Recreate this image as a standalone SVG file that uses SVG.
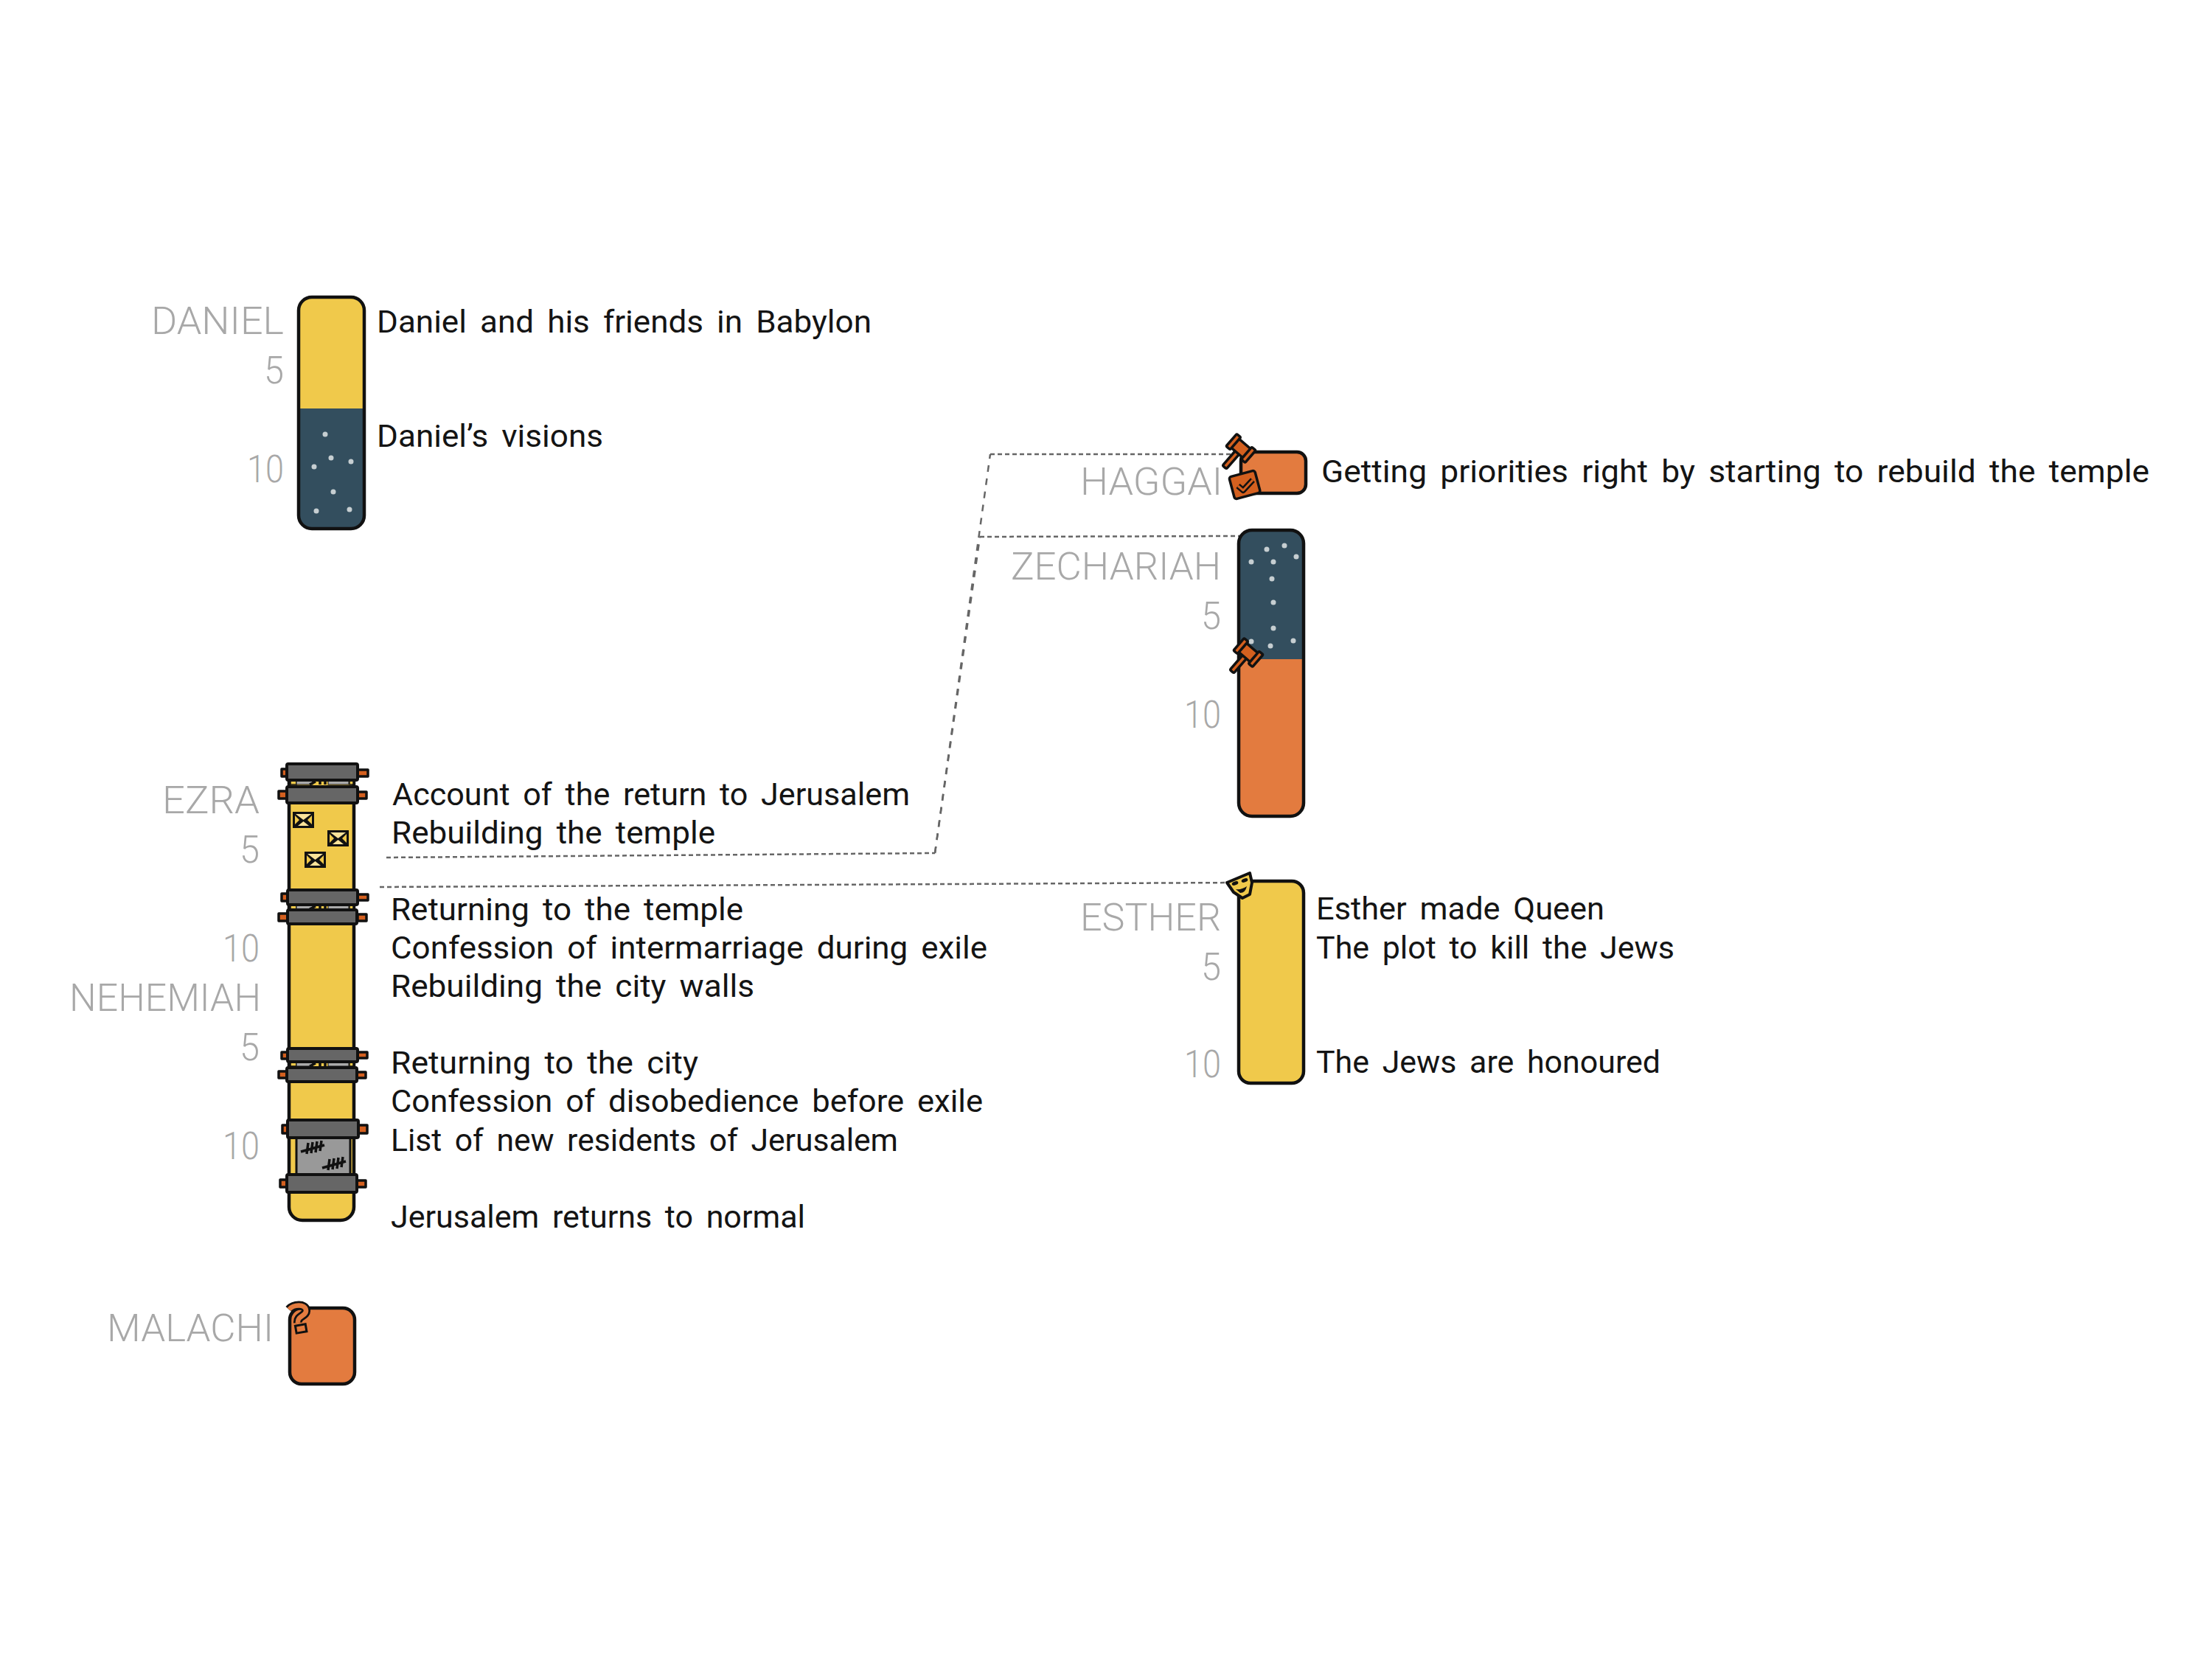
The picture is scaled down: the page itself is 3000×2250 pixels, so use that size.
<svg xmlns="http://www.w3.org/2000/svg" width="3000" height="2250" viewBox="0 0 3000 2250">
<style>
text{font-family:Roboto,"Noto Sans","Liberation Sans",sans-serif}
.t{font-size:43px;fill:#141414;word-spacing:7px}
.l{font-size:51px;fill:#a8a8a8;font-weight:300}
.o{stroke:#111;stroke-width:4.5;stroke-linejoin:round}
.y{fill:#f0c94b}.b{fill:#334e5e}.r{fill:#e37b3f}
.p{fill:#d4601f;stroke:#111;stroke-width:3.5;stroke-linejoin:round}
.d{fill:#c6ced1}
.dash{fill:none;stroke:#666;stroke-width:2.5;stroke-dasharray:6 4}
.dash2{fill:none;stroke:#666;stroke-width:2.5;stroke-dasharray:9 9}
.band{fill:#666;stroke:#111;stroke-width:4;stroke-linejoin:round}
.f{fill:none;stroke:#111;stroke-width:4.5}
</style>
<defs>
<g id="gavel">
<rect class="p" x="-3.500" y="6" width="7" height="28" rx="2"/>
<rect class="p" x="-11" y="-8" width="22" height="16"/>
<rect class="p" x="-17" y="-11" width="7" height="22" rx="1.500"/>
<rect class="p" x="10" y="-11" width="7" height="22" rx="1.500"/>
</g>
<g id="env">
<rect x="0" y="0" width="27" height="20" fill="#111" stroke="#111" stroke-width="2"/>
<path d="M3 2 H24 L13.500 10Z" fill="#fbe39a"/>
<path d="M2 4 L8 10 L2 16Z M25 4 L19 10 L25 16Z" fill="#f0c94b"/>
<path d="M6 18 L13.500 12 L21 18Z" fill="#fbe39a"/>
</g>
<g id="gap">
<rect x="394" y="0" width="8" height="5" fill="#f0c94b" stroke="#111" stroke-width="1.500"/>
<rect x="402" y="0" width="22" height="5" fill="#aaa" stroke="#111" stroke-width="1"/>
<rect x="445" y="0" width="28" height="5" fill="#aaa" stroke="#111" stroke-width="1"/>
<rect x="474" y="0" width="5" height="5" fill="#f0c94b" stroke="#111" stroke-width="1.500"/>
<path d="M420 5 L428 1 M434 0 V5 M441 1 V5" stroke="#111" stroke-width="3.500" fill="none"/>
</g>
<g id="tally">
<path d="M0 12 L32 3 M8 15 L10 0 M14 14 L16 -1 M20 13 L22 -2 M26 11 L28 -3" stroke="#111" stroke-width="3.500" fill="none"/>
</g>
</defs>

<g id="connectors">
<path class="dash" d="M524 1163 L1268 1157"/>
<path class="dash2" d="M1268 1157 L1329 728"/>
<path class="dash" d="M1329 728 L1682 727"/>
<path class="dash2" d="M1268 1157 L1343 616"/>
<path class="dash" d="M1343 616 L1672 616"/>
<path class="dash" d="M515 1203 L1680 1197"/>
</g>

<g id="daniel">
<path class="y" d="M405 554 V421 a18 18 0 0 1 18 -18 H476 a18 18 0 0 1 18 18 V554Z"/>
<path class="b" d="M405 554 H494 V699 a18 18 0 0 1 -18 18 H423 a18 18 0 0 1 -18 -18Z"/>
<rect class="f" x="405" y="403" width="89" height="314" rx="18"/>
<g class="d"><circle cx="441" cy="589" r="3.500"/><circle cx="449" cy="621" r="3.500"/><circle cx="476" cy="626" r="3.500"/><circle cx="426" cy="633" r="3.500"/><circle cx="452" cy="667" r="3.500"/><circle cx="429" cy="693" r="3.500"/><circle cx="474" cy="691" r="3.500"/></g>
<text class="l" x="205" y="453" textLength="180" lengthAdjust="spacingAndGlyphs">DANIEL</text>
<text class="l" x="358" y="520" textLength="27" lengthAdjust="spacingAndGlyphs">5</text>
<text class="l" x="335" y="654" textLength="50" lengthAdjust="spacingAndGlyphs">10</text>
<text class="t" x="511" y="451" textLength="671" lengthAdjust="spacingAndGlyphs">Daniel and his friends in Babylon</text>
<text class="t" x="511" y="606" textLength="307" lengthAdjust="spacingAndGlyphs">Daniel’s visions</text>
</g>

<g id="haggai">
<rect class="r o" x="1683" y="613" width="88" height="56" rx="12"/>
<use href="#gavel" transform="translate(1683 608) rotate(41)"/>
<rect class="p" x="1670" y="642" width="36" height="31" rx="3" transform="rotate(-15 1688 657)"/>
<path d="M1679 659 L1686 665 L1699 651" fill="none" stroke="#111" stroke-width="8" stroke-linejoin="round"/>
<path d="M1679 659 L1686 665 L1699 651" fill="none" stroke="#d4601f" stroke-width="3" stroke-linejoin="round"/>
<text class="l" x="1465" y="671" textLength="193" lengthAdjust="spacingAndGlyphs">HAGGAI</text>
<text class="t" x="1792" y="654" textLength="1123" lengthAdjust="spacingAndGlyphs">Getting priorities right by starting to rebuild the temple</text>
</g>

<g id="zechariah">
<path class="b" d="M1680 894 V737 a18 18 0 0 1 18 -18 H1750 a18 18 0 0 1 18 18 V894Z"/>
<path class="r" d="M1680 894 H1768 V1089 a18 18 0 0 1 -18 18 H1698 a18 18 0 0 1 -18 -18Z"/>
<rect class="f" x="1680" y="719" width="88" height="388" rx="18"/>
<g class="d"><circle cx="1718" cy="745" r="3.500"/><circle cx="1742" cy="740" r="3.500"/><circle cx="1758" cy="755" r="3.500"/><circle cx="1697" cy="762" r="3.500"/><circle cx="1727" cy="762" r="3.500"/><circle cx="1725" cy="785" r="3.500"/><circle cx="1727" cy="817" r="3.500"/><circle cx="1727" cy="852" r="3.500"/><circle cx="1697" cy="870" r="3.500"/><circle cx="1723" cy="876" r="3.500"/><circle cx="1754" cy="869" r="3.500"/></g>
<use href="#gavel" transform="translate(1693 885) rotate(41)"/>
<text class="l" x="1371" y="786" textLength="285" lengthAdjust="spacingAndGlyphs">ZECHARIAH</text>
<text class="l" x="1629" y="853" textLength="27" lengthAdjust="spacingAndGlyphs">5</text>
<text class="l" x="1606" y="987" textLength="50" lengthAdjust="spacingAndGlyphs">10</text>
</g>

<g id="ezra-nehemiah">
<rect class="y o" x="392" y="1040" width="88" height="615" rx="18"/>
<rect x="402" y="1543" width="73" height="50" fill="#999" stroke="#111" stroke-width="3"/>
<g id="ezra-bands">
<use href="#gap" y="1059"/><use href="#gap" y="1228"/><use href="#gap" y="1441"/>
<g>
<rect class="p" x="382" y="1043" width="8" height="10"/><rect class="p" x="485" y="1044" width="14" height="9"/>
<rect class="p" x="378" y="1073" width="12" height="10"/><rect class="p" x="485" y="1074" width="12" height="9"/>
<rect class="p" x="382" y="1212" width="8" height="10"/><rect class="p" x="485" y="1213" width="14" height="8"/>
<rect class="p" x="378" y="1239" width="12" height="10"/><rect class="p" x="485" y="1240" width="12" height="9"/>
<rect class="p" x="382" y="1427" width="8" height="9"/><rect class="p" x="485" y="1427" width="13" height="8"/>
<rect class="p" x="378" y="1453" width="12" height="9"/><rect class="p" x="484" y="1454" width="12" height="8"/>
<rect class="p" x="383" y="1526" width="8" height="11"/><rect class="p" x="486" y="1526" width="12" height="11"/>
<rect class="p" x="380" y="1600" width="10" height="10"/><rect class="p" x="484" y="1601" width="12" height="9"/>
</g>
<rect class="band" x="389" y="1036" width="96" height="22" rx="2"/>
<rect class="band" x="389" y="1067" width="96" height="22" rx="2"/>
<rect class="band" x="390" y="1207" width="95" height="20" rx="2"/>
<rect class="band" x="390" y="1234" width="94" height="19" rx="2"/>
<rect class="band" x="390" y="1422" width="95" height="18" rx="2"/>
<rect class="band" x="389" y="1448" width="95" height="19" rx="2"/>
<rect class="band" x="390" y="1519" width="96" height="24" rx="2"/>
<rect class="band" x="389" y="1593" width="95" height="24" rx="2"/>
</g>
<use href="#env" x="398" y="1102"/><use href="#env" x="445" y="1127"/><use href="#env" x="414" y="1156"/>
<use href="#tally" x="408" y="1550"/><use href="#tally" x="437" y="1572"/>
<text class="l" x="220" y="1103" textLength="132" lengthAdjust="spacingAndGlyphs">EZRA</text>
<text class="l" x="325" y="1170" textLength="27" lengthAdjust="spacingAndGlyphs">5</text>
<text class="l" x="302" y="1304" textLength="50" lengthAdjust="spacingAndGlyphs">10</text>
<text class="l" x="94" y="1371" textLength="260" lengthAdjust="spacingAndGlyphs">NEHEMIAH</text>
<text class="l" x="325" y="1438" textLength="27" lengthAdjust="spacingAndGlyphs">5</text>
<text class="l" x="302" y="1572" textLength="50" lengthAdjust="spacingAndGlyphs">10</text>
<text class="t" x="532" y="1092" textLength="702" lengthAdjust="spacingAndGlyphs">Account of the return to Jerusalem</text>
<text class="t" x="531" y="1144" textLength="439" lengthAdjust="spacingAndGlyphs">Rebuilding the temple</text>
<text class="t" x="530" y="1248" textLength="478" lengthAdjust="spacingAndGlyphs">Returning to the temple</text>
<text class="t" x="530" y="1300" textLength="809" lengthAdjust="spacingAndGlyphs">Confession of intermarriage during exile</text>
<text class="t" x="530" y="1352" textLength="493" lengthAdjust="spacingAndGlyphs">Rebuilding the city walls</text>
<text class="t" x="530" y="1456" textLength="417" lengthAdjust="spacingAndGlyphs">Returning to the city</text>
<text class="t" x="530" y="1508" textLength="803" lengthAdjust="spacingAndGlyphs">Confession of disobedience before exile</text>
<text class="t" x="530" y="1561" textLength="688" lengthAdjust="spacingAndGlyphs">List of new residents of Jerusalem</text>
<text class="t" x="530" y="1665" textLength="562" lengthAdjust="spacingAndGlyphs">Jerusalem returns to normal</text>
</g>

<g id="esther">
<rect class="y o" x="1680" y="1195" width="88" height="274" rx="16"/>
<path d="M1664 1197 L1695 1184 L1698 1197 L1695 1213 L1685 1218 L1673 1210Z" fill="#f0c94b" stroke="#111" stroke-width="4" stroke-linejoin="round"/>
<ellipse cx="1675" cy="1198" rx="4.500" ry="2.500" fill="#111" transform="rotate(-20 1675 1198)"/>
<ellipse cx="1688" cy="1194" rx="4.500" ry="2.500" fill="#111" transform="rotate(-20 1688 1194)"/>
<path d="M1676 1206 Q1684 1207 1691 1202 Q1689 1211 1682 1211Z" fill="#111"/>
<text class="l" x="1465" y="1262" textLength="191" lengthAdjust="spacingAndGlyphs">ESTHER</text>
<text class="l" x="1629" y="1329" textLength="27" lengthAdjust="spacingAndGlyphs">5</text>
<text class="l" x="1606" y="1461" textLength="50" lengthAdjust="spacingAndGlyphs">10</text>
<text class="t" x="1785" y="1247" textLength="391" lengthAdjust="spacingAndGlyphs">Esther made Queen</text>
<text class="t" x="1785" y="1300" textLength="486" lengthAdjust="spacingAndGlyphs">The plot to kill the Jews</text>
<text class="t" x="1785" y="1455" textLength="467" lengthAdjust="spacingAndGlyphs">The Jews are honoured</text>
</g>

<g id="malachi">
<rect class="r o" x="393" y="1774" width="88" height="103" rx="16"/>
<path d="M392 1776 C398 1769 414 1768 415 1777 C416 1785 403 1784 404 1794" fill="none" stroke="#111" stroke-width="12" stroke-linejoin="round"/>
<path d="M392 1776 C398 1769 414 1768 415 1777 C416 1785 403 1784 404 1794" fill="none" stroke="#e37b3f" stroke-width="6.500" stroke-linejoin="round"/>
<rect x="401" y="1797" width="14" height="10" fill="#e37b3f" stroke="#111" stroke-width="3" transform="rotate(-10 408 1801)"/>
<text class="l" x="145" y="1819" textLength="226" lengthAdjust="spacingAndGlyphs">MALACHI</text>
</g>
</svg>
